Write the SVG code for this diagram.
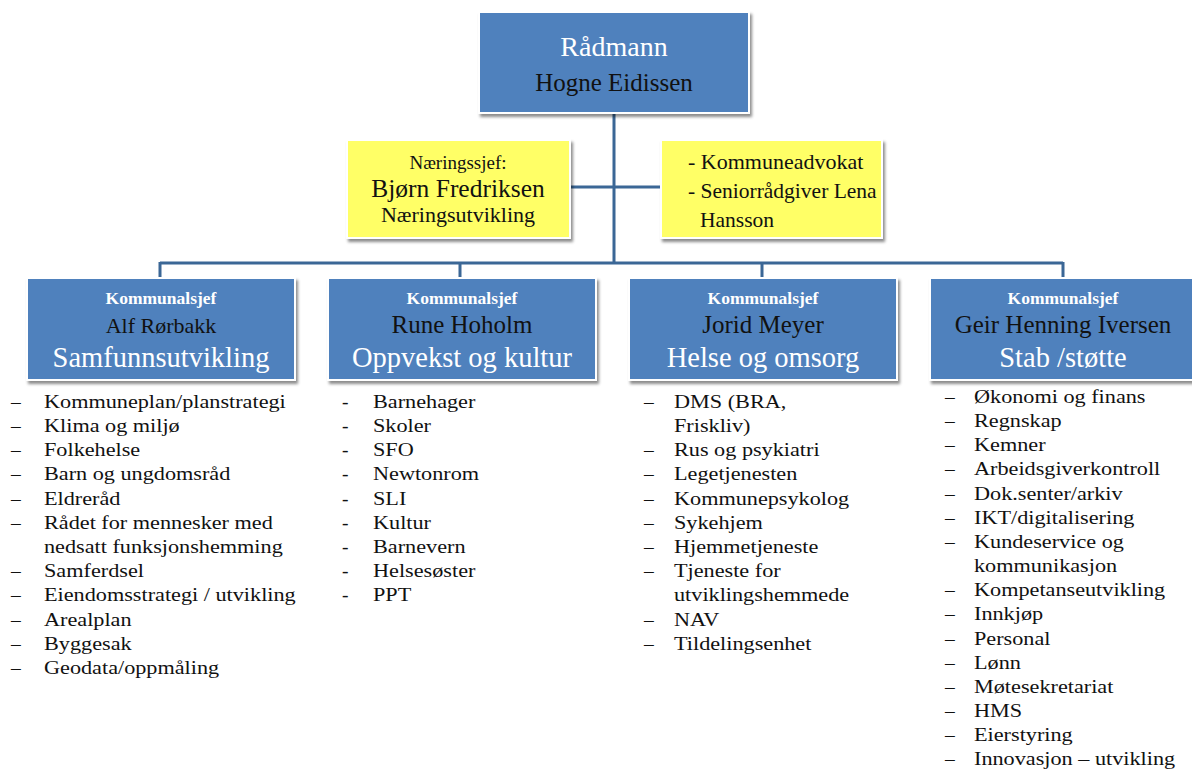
<svg xmlns="http://www.w3.org/2000/svg" width="1192" height="769" viewBox="0 0 1192 769">
<defs>
<filter id="sh" x="-10%" y="-10%" width="125%" height="135%">
<feDropShadow dx="2" dy="3" stdDeviation="1.6" flood-color="#000" flood-opacity="0.45"/>
</filter>
<style>
.blue{fill:#4F81BD;stroke:#fff;stroke-width:2;filter:url(#sh)}
.yel{fill:#FFFF66;stroke:#fff;stroke-width:2;filter:url(#sh)}
text{font-family:"Liberation Serif","Times New Roman",serif}
.w{fill:#fff}
.k{fill:#111}
.c{text-anchor:middle}
.sub{font-size:17.5px;font-weight:bold;fill:#fff;text-anchor:middle}
.nm{font-size:25px;fill:#111;text-anchor:middle}
.dp{font-size:28.5px;fill:#fff;text-anchor:middle}
.li{font-size:19.5px;fill:#111}
.conn{fill:none;stroke:#3B6796;stroke-width:3}
</style>
</defs>
<rect width="1192" height="769" fill="#fff"/>

<g id="connectors">
<path class="conn" d="M614,113 V263 M160,263 H1063 M160,262 V277 M460,262 V277 M762,262 V277 M1063,262 V277 M570,187 H661"/>
</g>

<g id="radmann">
<rect class="blue" x="479" y="12" width="270" height="101"/>
<text class="w c" x="614" y="56" font-size="28">Rådmann</text>
<text class="k c" x="614" y="91" font-size="25">Hogne Eidissen</text>
</g>

<g id="naeringssjef">
<rect class="yel" x="347" y="140" width="223" height="98"/>
<text class="k c" x="458" y="169" font-size="19">Næringssjef:</text>
<text class="k c" x="458" y="197" font-size="25.5">Bjørn Fredriksen</text>
<text class="k c" x="458" y="222" font-size="22">Næringsutvikling</text>
</g>

<g id="advokat">
<rect class="yel" x="661" y="140" width="221" height="98"/>
<text class="k" x="688" y="169" font-size="22">- Kommuneadvokat</text>
<text class="k" x="688" y="198" font-size="21.5">- Seniorrådgiver Lena</text>
<text class="k" x="700" y="227" font-size="21.5">Hansson</text>
</g>

<g id="samfunn">
<rect class="blue" x="27" y="278" width="268" height="102"/>
<text class="sub" x="161" y="304">Kommunalsjef</text>
<text class="nm" x="161" y="333" font-size="22" style="font-size:22px">Alf Rørbakk</text>
<text class="dp" x="161" y="367">Samfunnsutvikling</text>
</g>

<g id="oppvekst">
<rect class="blue" x="328" y="278" width="268" height="102"/>
<text class="sub" x="462" y="304">Kommunalsjef</text>
<text class="nm" x="462" y="333">Rune Hoholm</text>
<text class="dp" x="462" y="367">Oppvekst og kultur</text>
</g>

<g id="helse">
<rect class="blue" x="629" y="278" width="268" height="102"/>
<text class="sub" x="763" y="304">Kommunalsjef</text>
<text class="nm" x="763" y="333">Jorid Meyer</text>
<text class="dp" x="763" y="367">Helse og omsorg</text>
</g>

<g id="stab">
<rect class="blue" x="930" y="278" width="270" height="102"/>
<text class="sub" x="1063" y="304">Kommunalsjef</text>
<text class="nm" x="1063" y="333">Geir Henning Iversen</text>
<text class="dp" x="1063" y="367">Stab /støtte</text>
</g>

<g id="list-samfunn">
<g class="li">
<text class="li" x="11" y="408">–</text><text class="li" x="11" y="432">–</text><text class="li" x="11" y="456">–</text><text class="li" x="11" y="480">–</text><text class="li" x="11" y="505">–</text><text class="li" x="11" y="529">–</text><text class="li" x="11" y="577">–</text><text class="li" x="11" y="601">–</text><text class="li" x="11" y="626">–</text><text class="li" x="11" y="650">–</text><text class="li" x="11" y="674">–</text>
</g>
<g transform="translate(44,0) scale(1.14,1)">
<text class="li" x="0" y="408">Kommuneplan/planstrategi</text>
<text class="li" x="0" y="432">Klima og miljø</text>
<text class="li" x="0" y="456">Folkehelse</text>
<text class="li" x="0" y="480">Barn og ungdomsråd</text>
<text class="li" x="0" y="505">Eldreråd</text>
<text class="li" x="0" y="529">Rådet for mennesker med</text>
<text class="li" x="0" y="553">nedsatt funksjonshemming</text>
<text class="li" x="0" y="577">Samferdsel</text>
<text class="li" x="0" y="601">Eiendomsstrategi / utvikling</text>
<text class="li" x="0" y="626">Arealplan</text>
<text class="li" x="0" y="650">Byggesak</text>
<text class="li" x="0" y="674">Geodata/oppmåling</text>
</g>
</g>

<g id="list-oppvekst">
<text class="li" x="342" y="408">-</text><text class="li" x="342" y="432">-</text><text class="li" x="342" y="456">-</text><text class="li" x="342" y="480">-</text><text class="li" x="342" y="505">-</text><text class="li" x="342" y="529">-</text><text class="li" x="342" y="553">-</text><text class="li" x="342" y="577">-</text><text class="li" x="342" y="601">-</text>
<g transform="translate(373,0) scale(1.14,1)">
<text class="li" x="0" y="408">Barnehager</text>
<text class="li" x="0" y="432">Skoler</text>
<text class="li" x="0" y="456">SFO</text>
<text class="li" x="0" y="480">Newtonrom</text>
<text class="li" x="0" y="505">SLI</text>
<text class="li" x="0" y="529">Kultur</text>
<text class="li" x="0" y="553">Barnevern</text>
<text class="li" x="0" y="577">Helsesøster</text>
<text class="li" x="0" y="601">PPT</text>
</g>
</g>

<g id="list-helse">
<text class="li" x="644" y="408">–</text><text class="li" x="644" y="456">–</text><text class="li" x="644" y="480">–</text><text class="li" x="644" y="505">–</text><text class="li" x="644" y="529">–</text><text class="li" x="644" y="553">–</text><text class="li" x="644" y="577">–</text><text class="li" x="644" y="626">–</text><text class="li" x="644" y="650">–</text>
<g transform="translate(674,0) scale(1.14,1)">
<text class="li" x="0" y="408">DMS (BRA,</text>
<text class="li" x="0" y="432">Friskliv)</text>
<text class="li" x="0" y="456">Rus og psykiatri</text>
<text class="li" x="0" y="480">Legetjenesten</text>
<text class="li" x="0" y="505">Kommunepsykolog</text>
<text class="li" x="0" y="529">Sykehjem</text>
<text class="li" x="0" y="553">Hjemmetjeneste</text>
<text class="li" x="0" y="577">Tjeneste for</text>
<text class="li" x="0" y="601">utviklingshemmede</text>
<text class="li" x="0" y="626">NAV</text>
<text class="li" x="0" y="650">Tildelingsenhet</text>
</g>
</g>

<g id="list-stab">
<text class="li" x="945" y="403">–</text><text class="li" x="945" y="427">–</text><text class="li" x="945" y="451">–</text><text class="li" x="945" y="475">–</text><text class="li" x="945" y="500">–</text><text class="li" x="945" y="524">–</text><text class="li" x="945" y="548">–</text><text class="li" x="945" y="596">–</text><text class="li" x="945" y="620">–</text><text class="li" x="945" y="645">–</text><text class="li" x="945" y="669">–</text><text class="li" x="945" y="693">–</text><text class="li" x="945" y="717">–</text><text class="li" x="945" y="741">–</text><text class="li" x="945" y="765">–</text>
<g transform="translate(974,0) scale(1.14,1)">
<text class="li" x="0" y="403">Økonomi og finans</text>
<text class="li" x="0" y="427">Regnskap</text>
<text class="li" x="0" y="451">Kemner</text>
<text class="li" x="0" y="475">Arbeidsgiverkontroll</text>
<text class="li" x="0" y="500">Dok.senter/arkiv</text>
<text class="li" x="0" y="524">IKT/digitalisering</text>
<text class="li" x="0" y="548">Kundeservice og</text>
<text class="li" x="0" y="572">kommunikasjon</text>
<text class="li" x="0" y="596">Kompetanseutvikling</text>
<text class="li" x="0" y="620">Innkjøp</text>
<text class="li" x="0" y="645">Personal</text>
<text class="li" x="0" y="669">Lønn</text>
<text class="li" x="0" y="693">Møtesekretariat</text>
<text class="li" x="0" y="717">HMS</text>
<text class="li" x="0" y="741">Eierstyring</text>
<text class="li" x="0" y="765">Innovasjon – utvikling</text>
</g>
</g>
</svg>
